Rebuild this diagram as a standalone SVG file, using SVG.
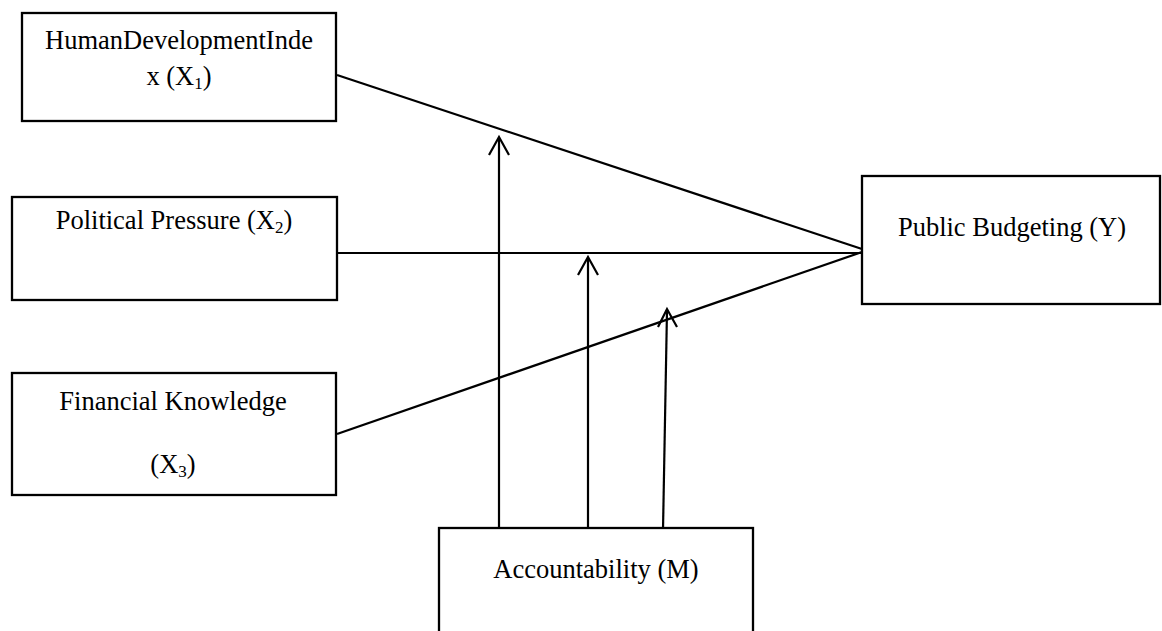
<svg xmlns="http://www.w3.org/2000/svg" width="1162" height="631" viewBox="0 0 1162 631">
<style>
.box{fill:#fff;stroke:#000;stroke-width:2.3}
.t{font-family:"Liberation Serif","Times New Roman",serif;font-size:26.5px;fill:#000;text-anchor:middle}
.sub{font-size:17px}
.ln{stroke:#000;stroke-width:2.2;fill:none}
</style>
<rect width="1162" height="631" fill="#fff"/>
<g id="connectors">
<line class="ln" x1="337" y1="75" x2="862" y2="249"/>
<line class="ln" x1="337" y1="253" x2="862" y2="253"/>
<line class="ln" x1="337" y1="434" x2="862" y2="252"/>
<line class="ln" x1="499" y1="528" x2="499" y2="138"/>
<polyline class="ln" points="489,155 499,137 509,155"/>
<line class="ln" x1="588" y1="528" x2="588" y2="258"/>
<polyline class="ln" points="578,275 588,257 598,275"/>
<line class="ln" x1="663" y1="530" x2="667" y2="310"/>
<polyline class="ln" points="658,327 667,309 677,327"/>
</g>
<g id="n1">
<rect class="box" x="22" y="13" width="314" height="108"/>
<text class="t" x="179" y="49">HumanDevelopmentInde</text>
<text class="t" x="179" y="85">x (X<tspan class="sub" dy="4">1</tspan><tspan dy="-4">)</tspan></text>
</g>
<g id="n2">
<rect class="box" x="12" y="197" width="325" height="103"/>
<text class="t" x="174" y="229">Political Pressure (X<tspan class="sub" dy="4">2</tspan><tspan dy="-4">)</tspan></text>
</g>
<g id="n3">
<rect class="box" x="12" y="373" width="324" height="122"/>
<text class="t" x="173" y="410">Financial Knowledge</text>
<text class="t" x="173" y="473">(X<tspan class="sub" dy="4">3</tspan><tspan dy="-4">)</tspan></text>
</g>
<g id="y">
<rect class="box" x="862" y="176" width="298" height="128"/>
<text class="t" x="1012" y="236">Public Budgeting (Y)</text>
</g>
<g id="m">
<rect class="box" x="439" y="528" width="314" height="110"/>
<text class="t" x="596" y="578">Accountability (M)</text>
</g>
</svg>
